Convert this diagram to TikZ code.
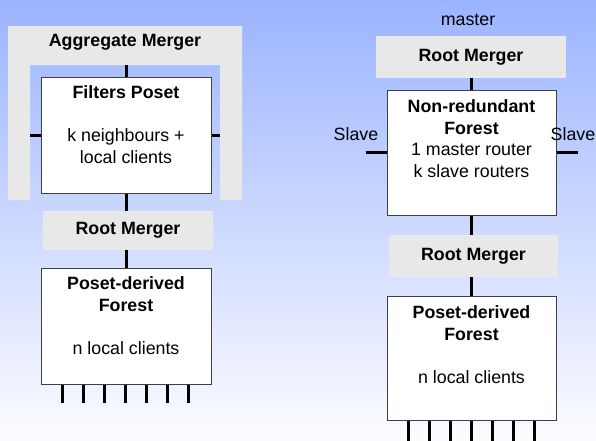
\documentclass[tikz,border=0pt]{standalone}
\usepackage{fontspec}
\setmainfont{Liberation Sans}
\usepackage{tikz}
\usetikzlibrary{positioning, calc}

\definecolor{skytop}{RGB}{155,180,255}
\definecolor{skybot}{RGB}{252,252,255}
\definecolor{mergegray}{RGB}{232,232,232}

\tikzset{
	merger/.style={fill=mergegray, inner sep=0pt, font=\fontsize{17.8}{21.6}\selectfont\bfseries},
	forestbox/.style={draw=black!75, fill=white, line width=1pt, inner sep=0pt},
	boxtext/.style={align=center, inner sep=0pt, font=\fontsize{17.8}{21.6}\selectfont},
	wire/.style={line width=3pt}
}

\begin{document}
\begin{tikzpicture}[x=1pt,y=-1pt]
		% backdrop
		\shade[top color=skytop,bottom color=skybot] (0,0) rectangle (596,440);
		\useasboundingbox (0,0) rectangle (596,440);

		% left: poset inside the aggregate merger
		\fill[mergegray] (8,26) -- (242,26) -- (242,200) -- (220,200) -- (220,65) -- (30,65) -- (30,200) -- (8,200) -- cycle;
		\node[boxtext, font=\fontsize{17.8}{21.6}\selectfont\bfseries] (aggr) at (125,42) {Aggregate Merger};
		\coordinate (aggtop) at (126,65);
		\coordinate (aggleft) at (30,135);
		\coordinate (aggright) at (220,135);

		\node[forestbox, minimum width=170pt, minimum height=116pt] (poset) at (126,135) {};
		\node[boxtext, below=9pt of poset.north] (posettxt) {\textbf{Filters Poset}\\[21.6pt]k neighbours +\\local clients};

		\node[merger, minimum width=170pt, minimum height=39pt] (rootl) at (128,230.5) {Root Merger};

		\node[forestbox, minimum width=170pt, minimum height=116pt] (pdfl) at (126,326) {};
		\node[boxtext, below=9pt of pdfl.north] (pdfltxt) {\textbf{Poset-derived}\\\textbf{Forest}\\[21.6pt]n local clients};

		\draw[wire] (poset.north) -- (aggtop);
		\draw[wire] (poset.west) -- (aggleft);
		\draw[wire] (poset.east) -- (aggright);
		\draw[wire] (poset.south) -- (poset.south |- rootl.north);
		\draw[wire] (pdfl.north |- rootl.south) -- (pdfl.north);
		\foreach \i in {22,43,...,149}{
			\draw[wire] ($(pdfl.south west)+(\i,0)$) -- ++(0,18);
		}

		% right: master / slave routers
		\node[boxtext] (master) at (468,20) {master};
		\node[merger, minimum width=190pt, minimum height=42pt] (rootr) at (471,57) {Root Merger};

		\node[forestbox, minimum width=169pt, minimum height=125pt] (nrf) at (471.5,152.5) {};
		\node[boxtext, below=10pt of nrf.north] (nrftxt) {\textbf{Non-redundant}\\\textbf{Forest}\\1 master router\\k slave routers};
		\node[boxtext] (slavel) at (356,134) {Slave};
		\node[boxtext] (slaver) at (573,134) {Slave};
		\coordinate (nrfleft) at (366,152.5);
		\coordinate (nrfright) at (578,152.5);

		\node[merger, minimum width=169pt, minimum height=42pt] (rootrr) at (473.5,256) {Root Merger};

		\node[forestbox, minimum width=169pt, minimum height=124pt] (pdfr) at (471.5,358) {};
		\node[boxtext, below=10pt of pdfr.north] (pdfrtxt) {\textbf{Poset-derived}\\\textbf{Forest}\\[21.6pt]n local clients};

		\draw[wire] (rootr.south -| nrf.north) -- (nrf.north);
		\draw[wire] (nrf.west) -- (nrfleft);
		\draw[wire] (nrf.east) -- (nrfright);
		\draw[wire] (nrf.south) -- (nrf.south |- rootrr.north);
		\draw[wire] (pdfr.north |- rootrr.south) -- (pdfr.north);
		\foreach \i in {22,43,...,149}{
			\draw[wire] ($(pdfr.south west)+(\i,0)$) -- ++(0,24);
		}
	\end{tikzpicture}
\end{document}
